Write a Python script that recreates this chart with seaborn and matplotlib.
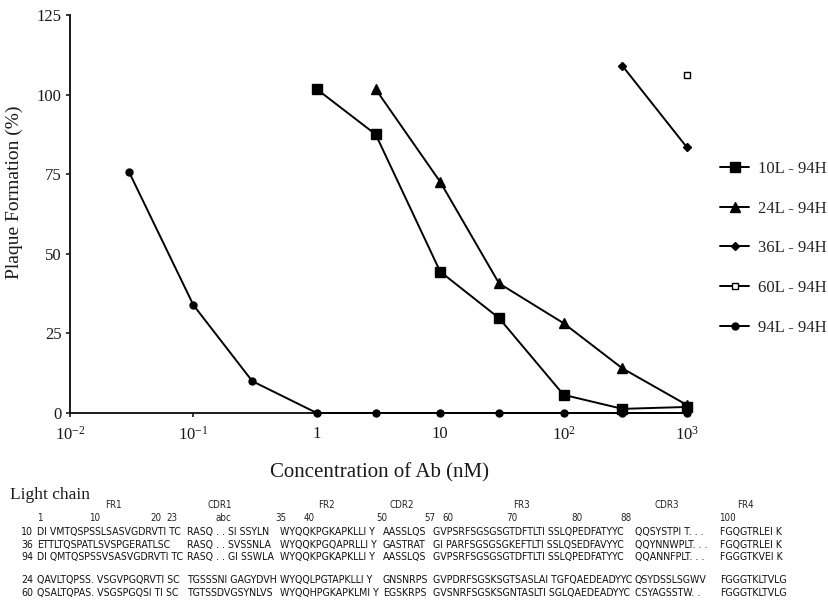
import os
import matplotlib
matplotlib.use("Agg")
import matplotlib.pyplot as plt
import seaborn as sns
import pandas as pd
from matplotlib import font_manager
from matplotlib.font_manager import FontProperties

# ---------------- data ----------------
conc_10L = [1, 3, 10, 30, 100, 300, 1000]
pf_10L = [101.7, 87.5, 44.4, 29.8, 5.7, 1.3, 1.9]
conc_24L = [3, 10, 30, 100, 300, 1000]
pf_24L = [101.7, 72.6, 40.7, 28.2, 14.0, 2.5]
conc_36L = [300, 1000]
pf_36L = [109.0, 83.4]
conc_60L = [1000]
pf_60L = [106.0]
conc_94L = [0.03, 0.1, 0.3, 1, 3, 10, 30, 100, 300, 1000]
pf_94L = [75.8, 33.9, 10.0, 0, 0, 0, 0, 0, 0, 0]

series_names = ["10L - 94H", "24L - 94H", "36L - 94H", "60L - 94H", "94L - 94H"]

x_ticks = [0.01, 0.1, 1, 10, 100, 1000]
x_ticklabels = [r"$\mathregular{10^{-2}}$", r"$\mathregular{10^{-1}}$", "1", "10",
                r"$\mathregular{10^{2}}$", r"$\mathregular{10^{3}}$"]
y_ticks = [0, 25, 50, 75, 100, 125]

# sequence table text
seq_ids = ["10", "36", "94", "24", "60"]
seq_fr1 = ["DI VMTQSPSSLSASVGDRVTI TC", "ETTLTQSPATLSVSPGERATLSC", "DI QMTQSPSSVSASVGDRVTI TC",
           "QAVLTQPSS. VSGVPGQRVTI SC", "QSALTQPAS. VSGSPGQSI TI SC"]
seq_cdr1 = ["RASQ . . SI SSYLN", "RASQ . . SVSSNLA", "RASQ . . GI SSWLA",
            "TGSSSNI GAGYDVH", "TGTSSDVGSYNLVS"]
seq_fr2 = ["WYQQKPGKAPKLLI Y", "WYQQKPGQAPRLLI Y", "WYQQKPGKAPKLLI Y",
           "WYQQLPGTAPKLLI Y", "WYQQHPGKAPKLMI Y"]
seq_cdr2 = ["AASSLQS", "GASTRAT", "AASSLQS", "GNSNRPS", "EGSKRPS"]
seq_fr3 = ["GVPSRFSGSGSGTDFTLTI SSLQPEDFATYYC", "GI PARFSGSGSGKEFTLTI SSLQSEDFAVYYC",
           "GVPSRFSGSGSGTDFTLTI SSLQPEDFATYYC", "GVPDRFSGSKSGTSASLAI TGFQAEDEADYYC",
           "GVSNRFSGSKSGNTASLTI SGLQAEDEADYYC"]
seq_cdr3 = ["QQSYSTPI T. . .", "QQYNNWPLT. . .", "QQANNFPLT. . .", "QSYDSSLSGWV", "CSYAGSSTW. ."]
seq_fr4 = ["FGQGTRLEI K", "FGQGTRLEI K", "FGGGTKVEI K", "FGGGTKLTVLG", "FGGGTKLTVLG"]
region_labels = ["FR1", "CDR1", "FR2", "CDR2", "FR3", "CDR3", "FR4"]
position_labels = ["1", "10", "20", "23", "abc", "35", "40", "50", "57", "60", "70", "80", "88", "100"]

# ---------------- style ----------------
sns.set_style("white")
plt.rcParams["font.family"] = ["Liberation Serif", "DejaVu Serif"]
plt.rcParams["mathtext.fontset"] = "custom"
plt.rcParams["mathtext.rm"] = "Liberation Serif"
plt.rcParams["mathtext.it"] = "Liberation Serif:italic"
plt.rcParams["mathtext.bf"] = "Liberation Serif:bold"


def pick_condensed_font():
    bad = ("semi", "extra", "ultra", "bold", "italic", "oblique", "medium", "light",
           "thin", "black", "heavy", "mono", "serif", "cjk")
    prefer = ["Liberation Sans Narrow", "Noto Sans", "DejaVu Sans", "Open Sans", "Roboto", "Lato"]
    found = {}
    for f in font_manager.fontManager.ttflist:
        base = os.path.basename(f.fname).lower()
        if not ("condensed" in base or "narrow" in base):
            continue
        if any(b in base for b in bad):
            continue
        found.setdefault(f.name, f.fname)
    for p in prefer:
        if p in found:
            return FontProperties(fname=found[p]), True
    if found:
        return FontProperties(fname=sorted(found.values())[0]), True
    return FontProperties(family="Liberation Sans"), False


seq_fp, is_condensed = pick_condensed_font()

W, H = 829, 604
fig = plt.figure(figsize=(W / 100, H / 100), dpi=100)
ax = fig.add_axes([70 / W, (H - 413) / H, 620 / W, 398 / H])

frames = {
    "94L - 94H": (conc_94L, pf_94L),
    "10L - 94H": (conc_10L, pf_10L),
    "24L - 94H": (conc_24L, pf_24L),
    "36L - 94H": (conc_36L, pf_36L),
    "60L - 94H": (conc_60L, pf_60L),
}
styles = {
    "10L - 94H": dict(marker="s", markersize=6.5, markerfacecolor="k"),
    "24L - 94H": dict(marker="^", markersize=6.5, markerfacecolor="k"),
    "36L - 94H": dict(marker="D", markersize=3.6, markerfacecolor="k"),
    "60L - 94H": dict(marker="s", markersize=4.5, markerfacecolor="white"),
    "94L - 94H": dict(marker="o", markersize=5, markerfacecolor="k"),
}
for name, (xs, ys) in frames.items():
    df = pd.DataFrame({"conc": xs, "pf": ys})
    sns.lineplot(data=df, x="conc", y="pf", ax=ax, color="k", linewidth=1.4,
                 markeredgecolor="k", markeredgewidth=1.0, label=name,
                 clip_on=False, zorder=3, **styles[name])

ax.set_xscale("log")
ax.set_xlim(0.01, 1000 * 10 ** (3 / 123.4))
ax.set_ylim(0, 125)
ax.set_xticks(x_ticks)
ax.set_xticklabels(x_ticklabels)
ax.set_yticks(y_ticks)
ax.xaxis.set_minor_locator(matplotlib.ticker.NullLocator())
for s in ["top", "right"]:
    ax.spines[s].set_visible(False)
for s in ["left", "bottom"]:
    ax.spines[s].set_color("#1a1a1a")
    ax.spines[s].set_linewidth(1.4)
ax.tick_params(axis="both", direction="out", length=3, width=1.2, colors="#1a1a1a",
               labelsize=12, pad=3, bottom=True, left=True)
ax.tick_params(axis="x", pad=6)
ax.set_xlabel("Concentration of Ab (nM)", fontsize=15, color="#1a1a1a")
ax.set_ylabel("Plaque Formation (%)", fontsize=14, color="#1a1a1a")
ax.xaxis.set_label_coords((380 - 70) / 620, -(463 - 413) / 398)
ax.yaxis.set_label_coords((23 - 70) / 620, (413 - 192) / 398)

handles, labels = ax.get_legend_handles_labels()
ax.get_legend().remove()
order = [labels.index(n) for n in series_names]
fig.legend([handles[i] for i in order], [labels[i] for i in order],
           loc="upper left", bbox_to_anchor=(720 / W, 1 - 161 / H),
           bbox_transform=fig.transFigure, frameon=False, borderpad=0,
           borderaxespad=0, handlelength=1.75, handletextpad=0.55,
           labelspacing=1.42, fontsize=12)

# ---------------- sequence table ----------------
def fx(x):
    return x / W

def fy(y):
    return 1 - y / H

fig.text(fx(10), fy(495), "Light chain", fontsize=12.5, va="center", ha="left", color="#1a1a1a")

small_fp = seq_fp.copy()
small_fp.set_size(7)
region_x = [113, 220, 326, 402, 521, 667, 745]
for lab, x in zip(region_labels, region_x):
    fig.text(fx(x), fy(505), lab, fontproperties=small_fp, ha="center", va="center",
             color="#222222")
pos_x = [40, 95, 156, 172, 223, 281, 309, 382, 430, 448, 512, 577, 626, 727]
for lab, x in zip(position_labels, pos_x):
    fig.text(fx(x), fy(518), lab, fontproperties=small_fp, ha="center", va="center",
             color="#222222")

row_y = [532, 545, 557, 580, 593]
seg_x = [37, 187, 280, 383, 433, 635, 720]
seg_end = [185, 278, 381, 431, 634, 718, 805]
base_fs = 8.3 if is_condensed else 7.8
seq_texts = []
id_texts = []
for i, y in enumerate(row_y):
    fp = seq_fp.copy()
    fp.set_size(base_fs)
    id_texts.append(fig.text(fx(21), fy(y), seq_ids[i], fontproperties=fp, ha="left",
                             va="center", color="#111111"))
    segs = [seq_fr1[i], seq_cdr1[i], seq_fr2[i], seq_cdr2[i], seq_fr3[i], seq_cdr3[i], seq_fr4[i]]
    for s, x, xe in zip(segs, seg_x, seg_end):
        fp = seq_fp.copy()
        fp.set_size(base_fs)
        t = fig.text(fx(x), fy(y), s, fontproperties=fp, ha="left", va="center",
                     color="#111111")
        seq_texts.append((t, xe - x))

# keep every segment inside its column, with one common size
fig.canvas.draw()
renderer = fig.canvas.get_renderer()
ratio = min(1.0, min(room / t.get_window_extent(renderer).width for t, room in seq_texts))
if ratio < 1.0:
    for t, room in seq_texts:
        t.set_fontsize(base_fs * ratio)
    for t in id_texts:
        t.set_fontsize(base_fs * ratio)

fig.savefig("out.png", dpi=100, facecolor="white")
